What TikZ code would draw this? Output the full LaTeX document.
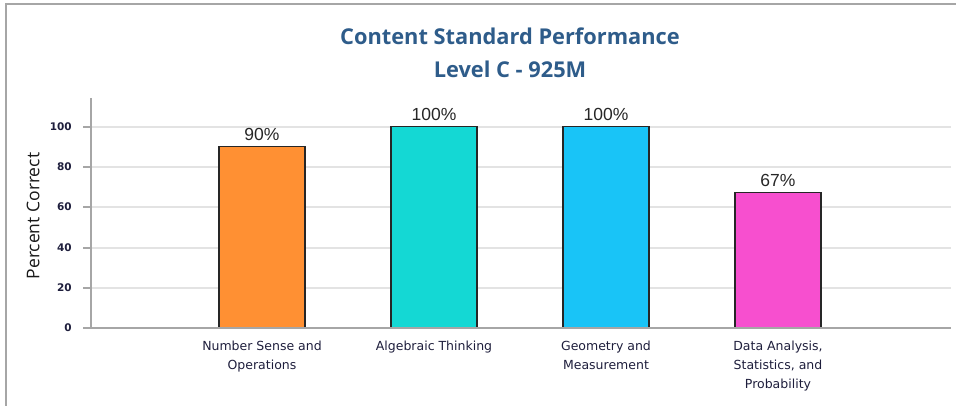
\documentclass[tikz,border=0pt]{standalone}
\usepackage{fontspec}
\setmainfont{Open Sans}
\newfontfamily\valuefont{Liberation Sans}
\newfontfamily\catfont{DejaVu Sans}
\usetikzlibrary{positioning}
\definecolor{titleblue}{HTML}{2E5C8A}
\definecolor{labelnavy}{HTML}{1E1E3C}
\definecolor{nsorange}{HTML}{FF9033}
\definecolor{atteal}{HTML}{14D8D4}
\definecolor{gmblue}{HTML}{19C4F7}
\definecolor{dspink}{HTML}{F74FCF}
\definecolor{gridgray}{HTML}{E3E3E3}
\definecolor{axisgray}{HTML}{A6A6A6}
\tikzset{
    bar/.style={rectangle, draw=black!85, line width=1.4pt, minimum width=86pt, anchor=south, inner sep=0pt},
    gridline/.style={draw=gridgray, line width=1.5pt},
}

\begin{document}
\begin{tikzpicture}[x=1pt, y=-1pt,
    pct/.style={font=\valuefont\fontsize{17.5}{17.5}\selectfont, inner sep=0pt, text=black!85},
    category/.style={font=\catfont\fontsize{12.5}{19}\selectfont, align=center, inner sep=0pt, text=labelnavy},
    ticklabel/.style={font=\catfont\bfseries\fontsize{10.5}{10.5}\selectfont, anchor=east, inner sep=0pt, text=labelnavy}]
  \useasboundingbox (0,0) rectangle (956,406);
  \draw[axisgray, line width=2pt] (6,406) -- (6,4) -- (956,4);

  \node[font=\bfseries\fontsize{21.8}{33}\selectfont, text=titleblue, align=center] (title) at (510,53)
    {Content Standard Performance\\Level C - 925M};

  % GRID
  \draw[gridline] (91,127) -- (951,127);
  \draw[gridline] (91,167) -- (951,167);
  \draw[gridline] (91,207) -- (951,207);
  \draw[gridline] (91,248) -- (951,248);
  \draw[gridline] (91,288) -- (951,288);

  % BARS
  \node[bar, fill=nsorange, minimum height=180.9pt] (numsense) at (262,328) {};
  \node[bar, fill=atteal,   minimum height=201pt]   (algebra)  at (434,328) {};
  \node[bar, fill=gmblue,   minimum height=201pt]   (geometry) at (606,328) {};
  \node[bar, fill=dspink,   minimum height=134.7pt] (dataanalysis) at (778,328) {};

  \node[pct, above=5pt of numsense]     (numsensepct) {90\%};
  \node[pct, above=5pt of algebra]      (algebrapct)  {100\%};
  \node[pct, above=5pt of geometry]     (geometrypct) {100\%};
  \node[pct, above=5pt of dataanalysis] (dataanalysispct) {67\%};

  % AXES
  \draw[axisgray, line width=2pt] (91,98) -- (91,328) -- (951,328);
  \draw[axisgray, line width=1.5pt] (83,127) -- (91,127);
  \draw[axisgray, line width=1.5pt] (83,167) -- (91,167);
  \draw[axisgray, line width=1.5pt] (83,207) -- (91,207);
  \draw[axisgray, line width=1.5pt] (83,248) -- (91,248);
  \draw[axisgray, line width=1.5pt] (83,288) -- (91,288);
  \draw[axisgray, line width=1.5pt] (83,328) -- (91,328);

  \node[ticklabel] (tick100) at (72,127) {100};
  \node[ticklabel] (tick80)  at (72,167) {80};
  \node[ticklabel] (tick60)  at (72,207) {60};
  \node[ticklabel] (tick40)  at (72,248) {40};
  \node[ticklabel] (tick20)  at (72,288) {20};
  \node[ticklabel] (tick0)   at (72,328) {0};

  \node[rotate=90, font=\fontsize{17.5}{17.5}\selectfont, text=black!90] (ylabel) at (33,216) {Percent Correct};

  % CATEGORIAS
  \node[category, below=13pt of numsense.south, anchor=north]     (numsenselbl) {Number Sense and\\Operations};
  \node[category, below=13pt of algebra.south, anchor=north]      (algebralbl)  {Algebraic Thinking};
  \node[category, below=13pt of geometry.south, anchor=north]     (geometrylbl) {Geometry and\\Measurement};
  \node[category, below=13pt of dataanalysis.south, anchor=north] (dataanalysislbl) {Data Analysis,\\Statistics, and\\Probability};
\end{tikzpicture}
\end{document}
